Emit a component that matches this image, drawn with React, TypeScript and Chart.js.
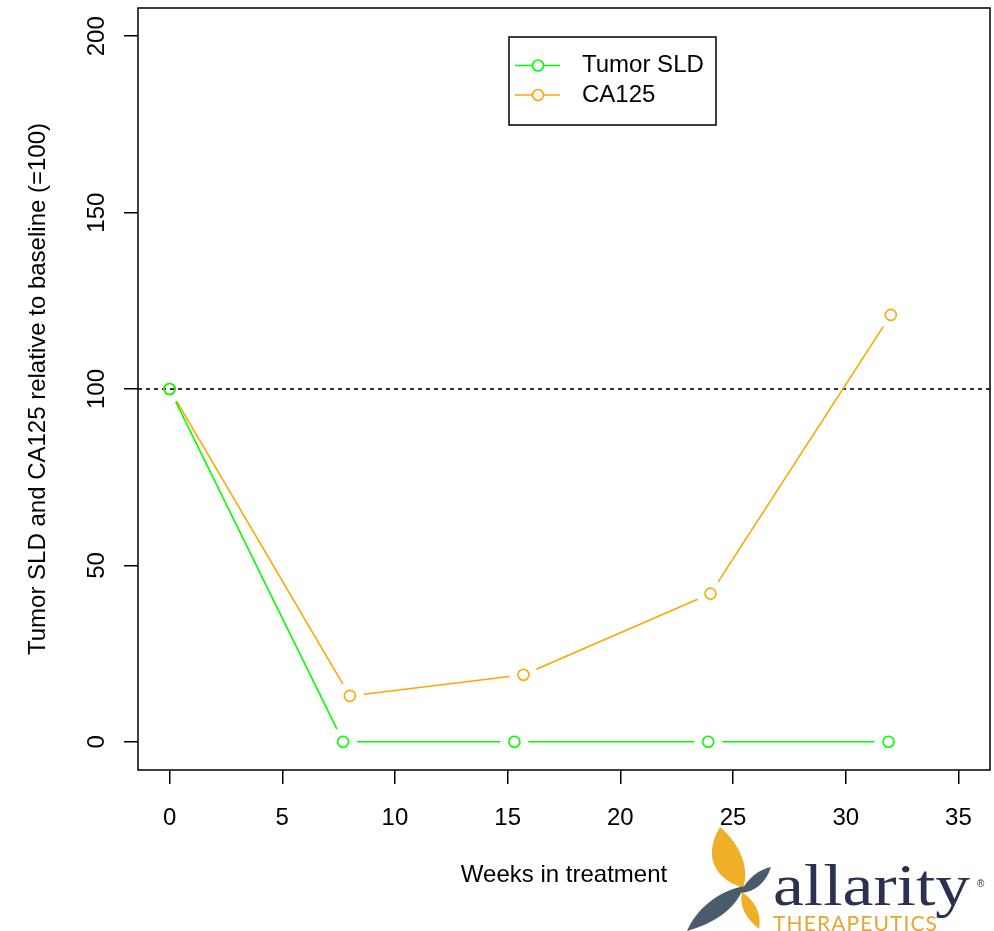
import React, { useEffect, useRef } from "react";
import { Chart, registerables } from "chart.js";
Chart.register(...registerables);

// ---- data ----
const weeksSLD = [0, 7.7, 15.3, 23.9, 31.9];
const tumorSLD = [100, 0, 0, 0, 0];
const weeksCA125 = [0, 8.0, 15.7, 24.0, 32.0];
const ca125 = [100, 13, 19, 42, 121];
const xTicks = [0, 5, 10, 15, 20, 25, 30, 35];
const yTicks = [0, 50, 100, 150, 200];
const baselineValue = 100;
const seriesNames = ["Tumor SLD", "CA125"];
const seriesColors = ["#00FF00", "#FFA500"];
const xTitle = "Weeks in treatment";
const yTitle = "Tumor SLD and CA125 relative to baseline (=100)";

const FONT = "'Liberation Sans', Arial, Helvetica, sans-serif";
const GAP = 14;

const rPlugin = {
  id: "rstyle",
  beforeDatasetsDraw(chart: any) {
    const { ctx, chartArea: a, scales } = chart;
    ctx.save();
    const yb = scales.y.getPixelForValue(baselineValue);
    ctx.setLineDash([4, 4]);
    ctx.strokeStyle = "#111";
    ctx.lineWidth = 1.7;
    ctx.beginPath();
    ctx.moveTo(a.left, yb);
    ctx.lineTo(a.right, yb);
    ctx.stroke();
    ctx.setLineDash([]);
    for (let i = chart.data.datasets.length - 1; i >= 0; i--) {
      const ds = chart.data.datasets[i];
      const meta = chart.getDatasetMeta(i);
      ctx.strokeStyle = ds.borderColor;
      ctx.lineWidth = 1.6;
      for (let k = 0; k < meta.data.length - 1; k++) {
        const p = meta.data[k];
        const q = meta.data[k + 1];
        const dx = q.x - p.x;
        const dy = q.y - p.y;
        const L = Math.hypot(dx, dy);
        if (L <= 2 * GAP) continue;
        const ux = dx / L;
        const uy = dy / L;
        ctx.beginPath();
        ctx.moveTo(p.x + ux * GAP, p.y + uy * GAP);
        ctx.lineTo(q.x - ux * GAP, q.y - uy * GAP);
        ctx.stroke();
      }
    }
    ctx.restore();
  },
  afterDraw(chart: any) {
    const { ctx, chartArea: a } = chart;
    ctx.save();
    // box
    ctx.strokeStyle = "#000";
    ctx.lineWidth = 1.5;
    ctx.strokeRect(a.left, a.top, a.right - a.left, a.bottom - a.top);
    // titles
    ctx.fillStyle = "#000";
    ctx.font = `24px ${FONT}`;
    ctx.textAlign = "center";
    ctx.textBaseline = "middle";
    ctx.fillText(xTitle, (a.left + a.right) / 2, 875);
    ctx.save();
    ctx.translate(38, (a.top + a.bottom) / 2);
    ctx.rotate(-Math.PI / 2);
    ctx.fillText(yTitle, 0, 0);
    ctx.restore();
    // legend
    const lx = 509, ly = 37, lw = 207, lh = 88;
    ctx.fillStyle = "#fff";
    ctx.fillRect(lx, ly, lw, lh);
    ctx.strokeStyle = "#000";
    ctx.lineWidth = 1.5;
    ctx.strokeRect(lx, ly, lw, lh);
    const rows = [65.5, 95];
    seriesNames.forEach((name, i) => {
      const y = rows[i];
      ctx.strokeStyle = seriesColors[i];
      ctx.lineWidth = 1.6;
      ctx.beginPath();
      ctx.moveTo(515, y);
      ctx.lineTo(532, y);
      ctx.moveTo(544, y);
      ctx.lineTo(560, y);
      ctx.stroke();
      ctx.beginPath();
      ctx.arc(538, y, 5.5, 0, Math.PI * 2);
      ctx.stroke();
      ctx.fillStyle = "#000";
      ctx.textAlign = "left";
      ctx.textBaseline = "middle";
      ctx.font = `24px ${FONT}`;
      ctx.fillText(name, 582, y);
    });
    ctx.restore();
  },
};

function zeroPad(s: any) {
  s.paddingTop = 0;
  s.paddingBottom = 0;
  s.paddingLeft = 0;
  s.paddingRight = 0;
}

export default function App() {
  const ref = useRef<HTMLCanvasElement | null>(null);
  useEffect(() => {
    if (!ref.current) return;
    const mk = (xs: number[], ys: number[], idx: number) => ({
      label: seriesNames[idx],
      data: xs.map((x, i) => ({ x, y: ys[i] })),
      borderColor: seriesColors[idx],
      backgroundColor: "transparent",
      pointBorderColor: seriesColors[idx],
      pointBackgroundColor: "transparent",
      pointRadius: 5.5,
      pointBorderWidth: 1.6,
      showLine: false,
    });
    const chart = new Chart(ref.current, {
      type: "scatter",
      data: {
        datasets: [mk(weeksSLD, tumorSLD, 0), mk(weeksCA125, ca125, 1)],
      },
      options: {
        responsive: false,
        animation: false,
        devicePixelRatio: 1,
        layout: { autoPadding: false, padding: { top: 8, right: 4, left: 0, bottom: 0 } },
        plugins: { legend: { display: false }, tooltip: { enabled: false } },
        scales: {
          x: {
            type: "linear",
            min: -1.4,
            max: 36.4,
            afterBuildTicks: (s: any) => {
              s.ticks = xTicks.map((v) => ({ value: v }));
            },
            afterFit: (s: any) => {
              s.height = 161;
              zeroPad(s);
            },
            border: { display: false },
            grid: {
              drawOnChartArea: false,
              drawTicks: true,
              tickLength: 14,
              color: "#000",
              lineWidth: 1.5,
            },
            ticks: {
              font: { family: FONT, size: 24 },
              color: "#000",
              padding: 20,
              maxRotation: 0,
              autoSkip: false,
            },
          },
          y: {
            type: "linear",
            min: -8,
            max: 208,
            afterBuildTicks: (s: any) => {
              s.ticks = yTicks.map((v) => ({ value: v }));
            },
            afterFit: (s: any) => {
              s.width = 138;
              zeroPad(s);
            },
            border: { display: false },
            grid: {
              drawOnChartArea: false,
              drawTicks: true,
              tickLength: 14,
              color: "#000",
              lineWidth: 1.5,
            },
            ticks: {
              font: { family: FONT, size: 24 },
              color: "#000",
              padding: 7,
              minRotation: 90,
              maxRotation: 90,
              crossAlign: "center",
              autoSkip: false,
            },
          },
        },
      },
      plugins: [rPlugin],
    } as any);
    return () => chart.destroy();
  }, []);

  return (
    <div style={{ position: "absolute", left: 0, top: 0, width: 994, height: 931, background: "#fff", overflow: "hidden" }}>
      <canvas ref={ref} width={994} height={931} style={{ position: "absolute", left: 0, top: 0 }} />
      <svg
        width={314}
        height={111}
        viewBox="0 0 314 111"
        style={{ position: "absolute", left: 680, top: 820 }}
      >
        <path d="M40,7 C26,30 28,56 63,68 C70,48 60,24 40,7 Z" fill="#F0AF28" />
        <path d="M64,66 C36,72 16,90 7,111 C32,104 56,90 64,66 Z" fill="#4A5C6B" />
        <path d="M60,73 C68,58 78,50 91,47 C86,62 76,72 60,73 Z" fill="#4A5C6B" />
        <path d="M62,72 C74,80 82,93 79,109 C66,99 59,86 62,72 Z" fill="#F0AF28" />
        <text
          x={93}
          y={85}
          textLength={197}
          lengthAdjust="spacingAndGlyphs"
          style={{ font: "60px 'Liberation Serif', 'DejaVu Serif', serif", fill: "#2B3150" }}
        >
          allarity
        </text>
        <text x={297} y={67} style={{ font: "10px 'Liberation Sans', sans-serif", fill: "#2B3150" }}>
          ®
        </text>
        <text
          x={93}
          y={111}
          textLength={164}
          lengthAdjust="spacing"
          style={{ font: "21px Lato, 'Open Sans', sans-serif", fill: "#E2A832" }}
        >
          THERAPEUTICS
        </text>
      </svg>
    </div>
  );
}
